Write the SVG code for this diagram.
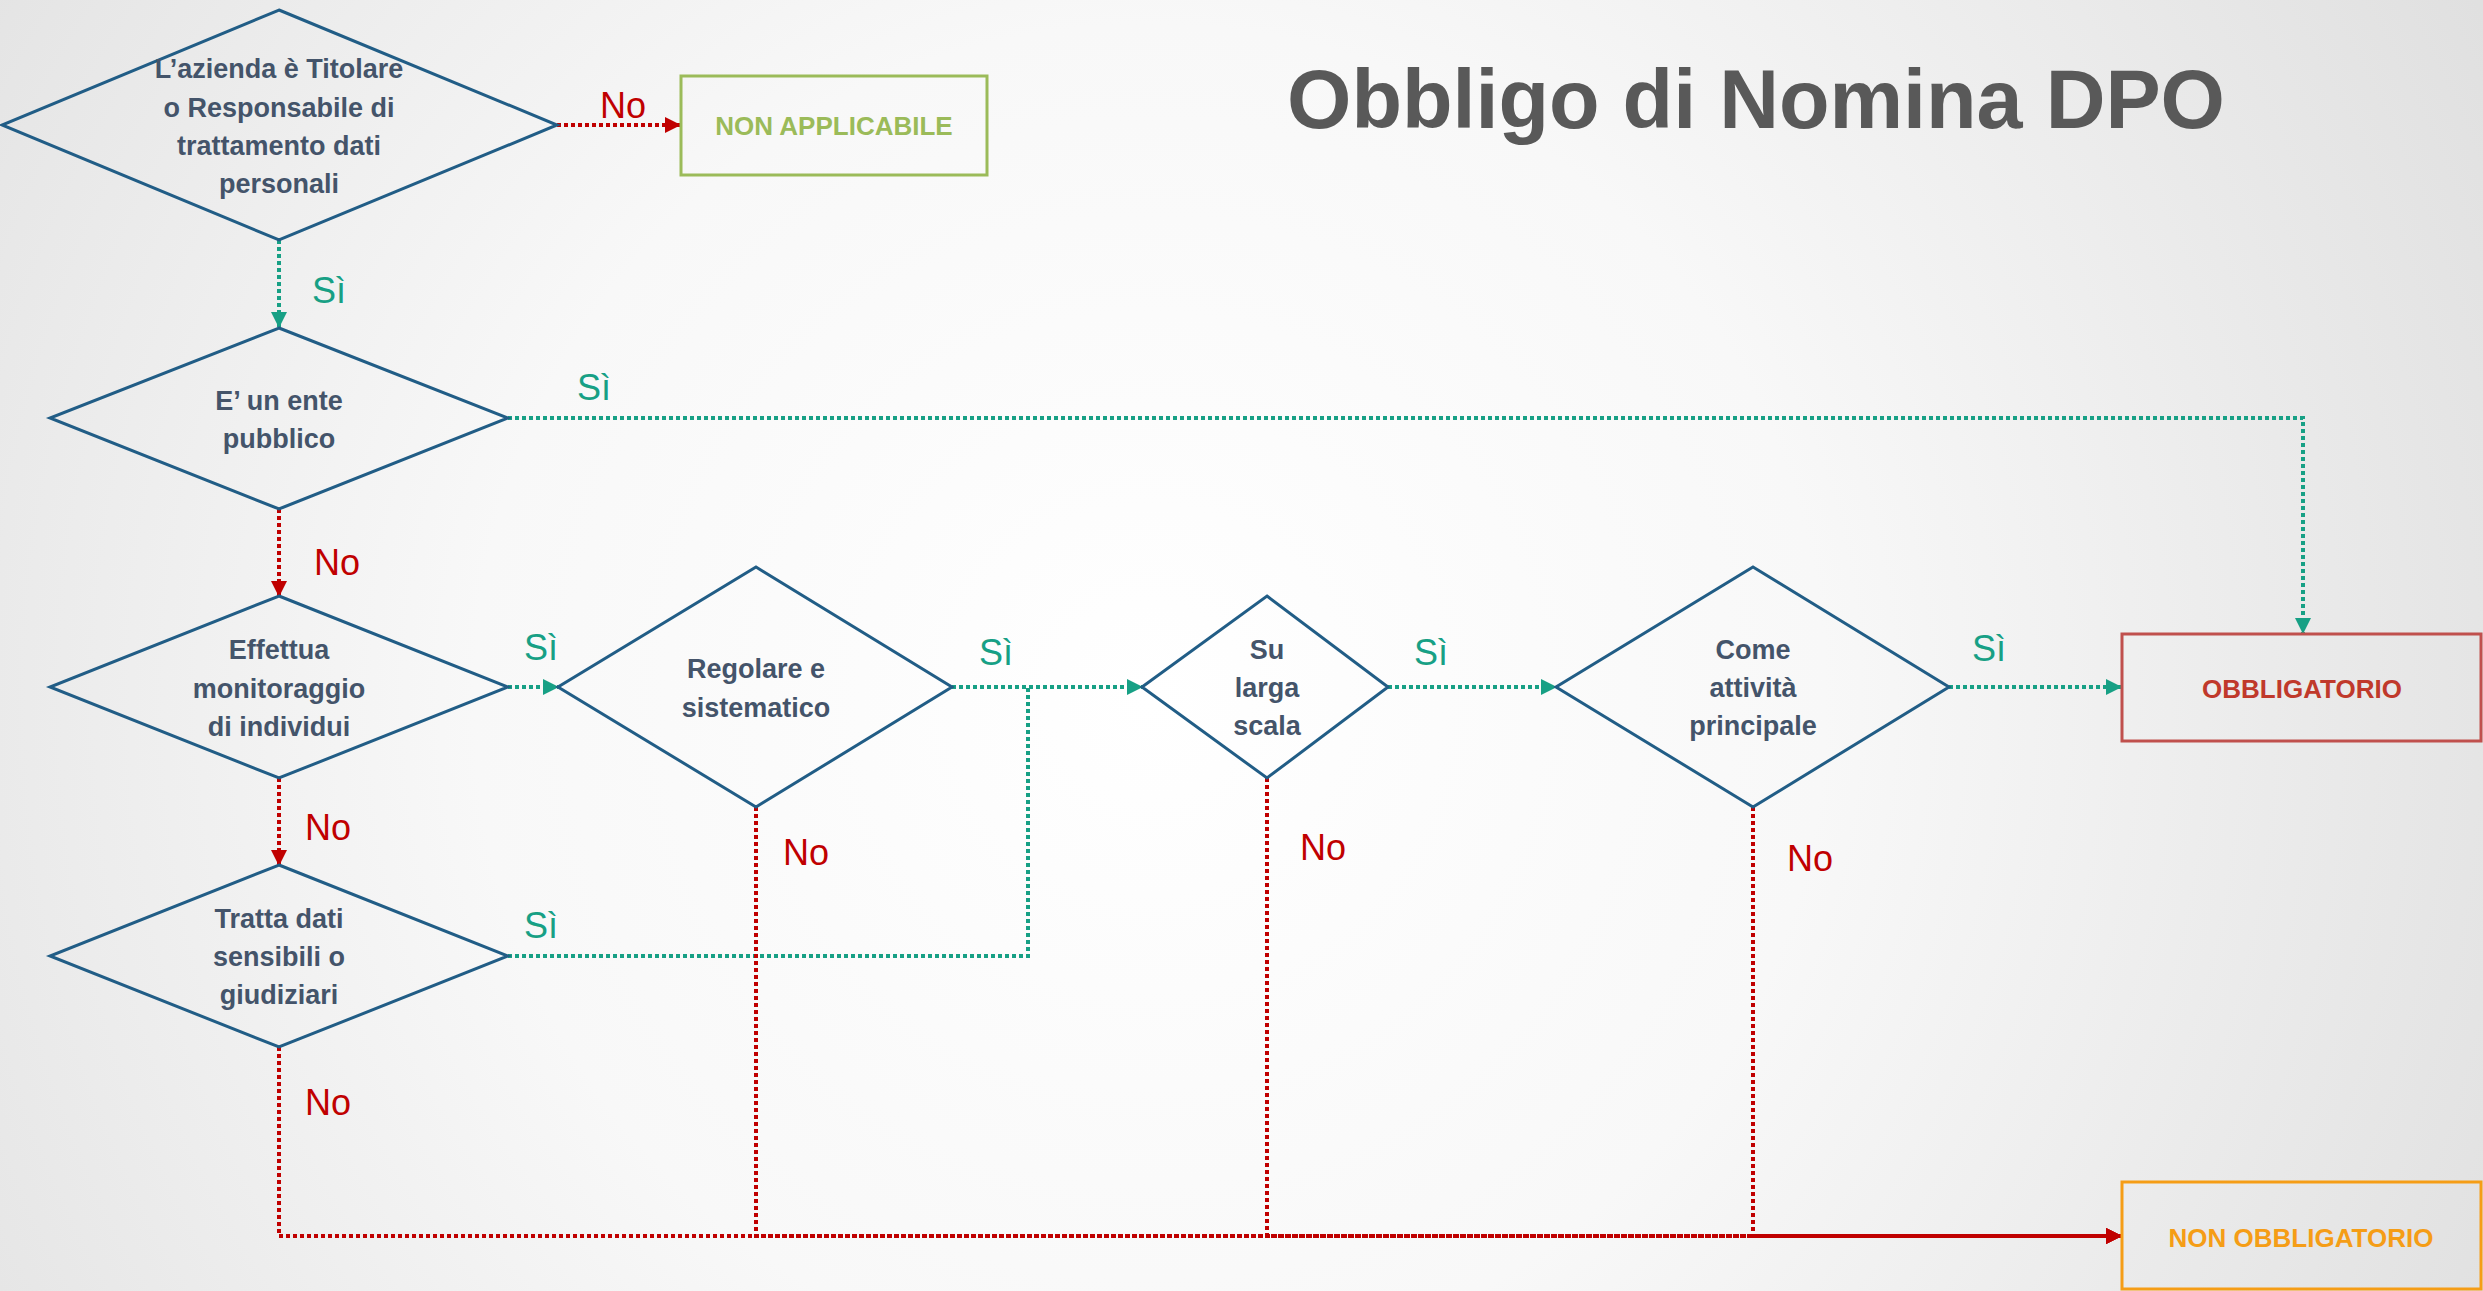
<svg xmlns="http://www.w3.org/2000/svg" width="2483" height="1291" viewBox="0 0 2483 1291">
<defs>
<radialGradient id="bg" cx="1150" cy="700" r="1500" gradientUnits="userSpaceOnUse">
<stop offset="0" stop-color="#FFFFFF"/>
<stop offset="0.45" stop-color="#F8F8F8"/>
<stop offset="1" stop-color="#E0E0E0"/>
</radialGradient>
<marker id="ag" markerUnits="userSpaceOnUse" markerWidth="16" markerHeight="16" refX="15" refY="8" orient="auto">
<path d="M0,0 L16,8 L0,16 z" fill="#17A085"/>
</marker>
<marker id="ar" markerUnits="userSpaceOnUse" markerWidth="16" markerHeight="16" refX="15" refY="8" orient="auto">
<path d="M0,0 L16,8 L0,16 z" fill="#C00000"/>
</marker>
<style>
.dia{fill:none;stroke:#215D86;stroke-width:3}
.nt{font-family:"Liberation Sans",Arial,sans-serif;font-weight:bold;font-size:27px;fill:#44546A;text-anchor:middle}
.g{fill:none;stroke:#17A085;stroke-width:4;stroke-dasharray:4 3}
.r{fill:none;stroke:#C00000;stroke-width:4;stroke-dasharray:4 3}
.lg{font-family:"Liberation Sans",Arial,sans-serif;font-size:36px;fill:#17A085}
.lr{font-family:"Liberation Sans",Arial,sans-serif;font-size:36px;fill:#C00000}
.bt{font-family:"Liberation Sans",Arial,sans-serif;font-weight:bold;font-size:26px;text-anchor:middle}
</style>
</defs>
<rect x="0" y="0" width="2483" height="1291" fill="url(#bg)"/>
<text x="1287" y="128" font-family="Liberation Sans,Arial,sans-serif" font-weight="bold" font-size="84" fill="#595959" textLength="938" lengthAdjust="spacingAndGlyphs">Obbligo di Nomina DPO</text>

<g id="connectors">
<path class="r" d="M557,125 H680" marker-end="url(#ar)"/>
<path class="g" d="M279,240 V327" marker-end="url(#ag)"/>
<path class="g" d="M508,418 H2303 V633" marker-end="url(#ag)"/>
<path class="r" d="M279,509 V596" marker-end="url(#ar)"/>
<path class="g" d="M508,687 H558" marker-end="url(#ag)"/>
<path class="r" d="M279,778 V865" marker-end="url(#ar)"/>
<path class="g" d="M952,687 H1142" marker-end="url(#ag)"/>
<path class="g" d="M508,956 H1028 V687"/>
<path class="g" d="M1388,687 H1556" marker-end="url(#ag)"/>
<path class="g" d="M1949,687 H2121" marker-end="url(#ag)"/>
<path class="r" d="M279,1047 V1236 H2121" marker-end="url(#ar)"/>
<path class="r" d="M756,807 V1236 H2121" marker-end="url(#ar)"/>
<path class="r" d="M1267,778 V1236 H2121" marker-end="url(#ar)"/>
<path class="r" d="M1753,807 V1236 H2121" marker-end="url(#ar)"/>
<text class="lr" x="600" y="118">No</text>
<text class="lg" x="312" y="303">Sì</text>
<text class="lg" x="577" y="400">Sì</text>
<text class="lr" x="314" y="575">No</text>
<text class="lg" x="524" y="660">Sì</text>
<text class="lr" x="305" y="840">No</text>
<text class="lg" x="979" y="665">Sì</text>
<text class="lg" x="524" y="938">Sì</text>
<text class="lg" x="1414" y="665">Sì</text>
<text class="lg" x="1972" y="661">Sì</text>
<text class="lr" x="305" y="1115">No</text>
<text class="lr" x="783" y="865">No</text>
<text class="lr" x="1300" y="860">No</text>
<text class="lr" x="1787" y="871">No</text>
</g>

<g id="d1">
<polygon class="dia" points="279,10 557,125 279,240 2,125"/>
<text class="nt" x="279" y="78">L’azienda è Titolare</text>
<text class="nt" x="279" y="117">o Responsabile di</text>
<text class="nt" x="279" y="155">trattamento dati</text>
<text class="nt" x="279" y="193">personali</text>
</g>
<g id="d2">
<polygon class="dia" points="279,328 508,418 279,509 50,418"/>
<text class="nt" x="279" y="410">E’ un ente</text>
<text class="nt" x="279" y="448">pubblico</text>
</g>
<g id="d3">
<polygon class="dia" points="279,596 508,687 279,778 50,687"/>
<text class="nt" x="279" y="659">Effettua</text>
<text class="nt" x="279" y="698">monitoraggio</text>
<text class="nt" x="279" y="736">di individui</text>
</g>
<g id="d4">
<polygon class="dia" points="756,567 952,687 756,807 558,687"/>
<text class="nt" x="756" y="678">Regolare e</text>
<text class="nt" x="756" y="717">sistematico</text>
</g>
<g id="d5">
<polygon class="dia" points="279,865 508,956 279,1047 50,956"/>
<text class="nt" x="279" y="928">Tratta dati</text>
<text class="nt" x="279" y="966">sensibili o</text>
<text class="nt" x="279" y="1004">giudiziari</text>
</g>
<g id="d6">
<polygon class="dia" points="1267,596 1388,687 1267,778 1142,687"/>
<text class="nt" x="1267" y="659">Su</text>
<text class="nt" x="1267" y="697">larga</text>
<text class="nt" x="1267" y="735">scala</text>
</g>
<g id="d7">
<polygon class="dia" points="1753,567 1949,687 1753,807 1556,687"/>
<text class="nt" x="1753" y="659">Come</text>
<text class="nt" x="1753" y="697">attività</text>
<text class="nt" x="1753" y="735">principale</text>
</g>
<g id="na">
<rect x="681" y="76" width="306" height="99" fill="none" stroke="#9BBB59" stroke-width="3"/>
<text class="bt" x="834" y="135" fill="#9BBB59">NON APPLICABILE</text>
</g>
<g id="ob">
<rect x="2122" y="634" width="359" height="107" fill="none" stroke="#C0504D" stroke-width="3"/>
<text class="bt" x="2302" y="698" fill="#C0392B">OBBLIGATORIO</text>
</g>
<g id="nob">
<rect x="2122" y="1182" width="359" height="107" fill="none" stroke="#F59D16" stroke-width="3"/>
<text class="bt" x="2301" y="1247" fill="#F59D16">NON OBBLIGATORIO</text>
</g>
</svg>
